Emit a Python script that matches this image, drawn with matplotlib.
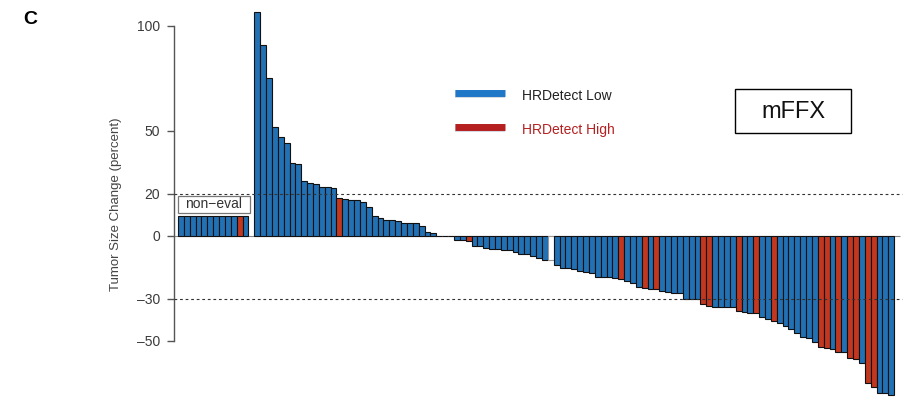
import matplotlib
matplotlib.use('Agg')
import matplotlib.pyplot as plt
import numpy as np
from matplotlib.patches import Rectangle
from matplotlib.lines import Line2D

plt.rcParams['font.family'] = ['Liberation Sans', 'DejaVu Sans']

# ---------------- data ----------------
# non-evaluable patients (drawn at fixed height)
noneval_vals = [9.5] * 12
noneval_grp = ['L'] * 10 + ['H', 'L']

# evaluable patients, sorted (waterfall)
pos_vals = [106.7, 90.9, 75.0, 51.9, 47.3, 44.4, 34.6, 34.1, 26.3, 25.1, 24.6,
            23.5, 23.2, 22.7, 18.1, 17.5, 17.1, 17.1, 16.3, 13.6, 9.6, 8.4,
            7.6, 7.6, 7.1, 6.3, 6.3, 6.3, 4.8, 1.7, 1.3]
pos_grp = ['L'] * 14 + ['H'] + ['L'] * 16

zero_vals = [0.0, 0.0, 0.0]
zero_grp = ['L', 'L', 'L']

neg_vals = [-2.0, -2.0, -2.4, -4.6, -4.8, -5.9, -6.2, -6.2, -6.6, -6.8, -7.5,
            -8.4, -8.7, -9.4, -10.6, -11.3, -11.4,
            -13.8, -15.1, -15.4, -15.7, -16.5, -17.0, -17.8, -19.7, -19.7,
            -19.7, -19.9, -20.6, -21.3, -22.5, -24.4, -24.9, -25.4, -25.4,
            -26.0, -26.5, -27.3, -27.3, -30.2, -30.2, -30.2, -32.4, -33.3,
            -33.7, -34.0, -34.0, -34.0, -35.6, -36.2, -36.5, -36.5, -38.7,
            -39.7, -40.6, -41.3, -42.9, -44.4, -46.0, -48.3, -48.7, -50.3,
            -52.7, -53.3, -53.7, -55.1, -55.1, -58.3, -58.7, -60.6, -69.8,
            -72.0, -74.6, -74.6, -75.7]
neg_grp = (['L', 'L', 'H'] + ['L'] * 13 + ['N'] +
           ['L'] * 11 + ['H', 'L', 'L', 'L', 'H', 'L', 'H'] + ['L'] * 7 + ['H', 'H'] +
           ['L'] * 4 + ['H', 'L', 'L', 'H', 'L', 'L', 'H'] + ['L'] * 7 +
           ['H', 'H', 'L', 'H', 'L', 'H', 'H', 'L', 'H', 'H', 'L', 'L', 'L'])

yticks = [-50, -30, 0, 20, 50, 100]
ref_lines = [20, -30]

# ---------------- styling ----------------
BLUE = '#2271b5'
RED = '#c2371f'
colmap = {'L': BLUE, 'H': RED, 'N': 'white'}
edgemap = {'L': '#111111', 'H': '#111111', 'N': '#999999'}

fig = plt.figure(figsize=(9.05, 3.97), dpi=100)
ax = fig.add_axes([0, 0, 1, 1])
ax.patch.set_alpha(0)

pitch = 5.87
x0px = 178.0


def px2x(p):
    return (p - x0px) / pitch - 0.5


ax.set_xlim(px2x(0), px2x(905))
ax.set_ylim(-76.67, 112.38)

# positions
x_ne = np.arange(len(noneval_vals))
rest_vals = pos_vals + zero_vals + neg_vals
rest_grp = pos_grp + zero_grp + neg_grp
x_rest = np.arange(len(rest_vals)) + len(noneval_vals) + 1

# zero line
ax.hlines(0, px2x(174), px2x(900), color='#888888', lw=0.8, zorder=1)

ax.bar(x_ne, noneval_vals, width=1.0, color=[colmap[g] for g in noneval_grp],
       edgecolor=[edgemap[g] for g in noneval_grp], linewidth=0.8, zorder=3)
ax.bar(x_rest, rest_vals, width=1.0, color=[colmap[g] for g in rest_grp],
       edgecolor=[edgemap[g] for g in rest_grp], linewidth=0.8, zorder=3)

for yv in ref_lines:
    ax.hlines(yv, px2x(174), px2x(902), color='#333333', lw=0.8,
              linestyles=(0, (2.5, 2.5)), zorder=4)

# non-eval box
ax.add_patch(Rectangle((px2x(178), 11.0), px2x(250) - px2x(178), 8.0,
                       facecolor='white', edgecolor='#777777', lw=0.9, zorder=5))
ax.text((px2x(178) + px2x(250)) / 2, 15.0, 'non\u2212eval', ha='center',
        va='center', fontsize=10, color='#333333', zorder=6)

# axis styling
for s in ['top', 'right', 'bottom']:
    ax.spines[s].set_visible(False)
ax.spines['left'].set_position(('data', px2x(174)))
ax.spines['left'].set_bounds(-50, 100)
ax.spines['left'].set_color('#555555')
ax.spines['left'].set_linewidth(1.0)
ax.set_xticks([])
ax.set_yticks(yticks)
ax.set_yticklabels([str(t).replace('-', '\u2013') for t in yticks])
ax.tick_params(axis='y', length=5, width=1.0, color='#555555', pad=5,
               labelsize=10, labelcolor='#3a3a3a')

fig.text(116 / 905, 1 - 204 / 397, 'Tumor Size Change (percent)', rotation=90,
         ha='center', va='center', fontsize=9.5, color='#444444')

# legend
for ypx, col, lab, tcol in [(93, '#1f77c8', 'HRDetect Low', '#222222'),
                            (127, '#b51f1f', 'HRDetect High', '#b52020')]:
    fig.add_artist(Line2D([455 / 905, 505 / 905], [1 - (ypx + 1) / 397] * 2,
                          lw=5.5, color='#9aa4b8', alpha=0.5, solid_capstyle='butt'))
    fig.add_artist(Line2D([455 / 905, 505 / 905], [1 - ypx / 397] * 2,
                          lw=5, color=col, solid_capstyle='butt'))
    fig.text(522 / 905, 1 - (ypx + 3) / 397, lab, ha='left', va='center',
             fontsize=10, color=tcol)

# mFFX box
fig.add_artist(Rectangle((735 / 905, 1 - 133 / 397), 116 / 905, 44 / 397,
                         transform=fig.transFigure, facecolor='white',
                         edgecolor='black', lw=1.0))
fig.text(793 / 905, 1 - 112 / 397, 'mFFX', ha='center', va='center',
         fontsize=17, color='#111111')

fig.text(30 / 905, 1 - 20 / 397, 'C', ha='center', va='center', fontsize=14,
         fontweight='bold', color='black')

fig.savefig('out.png', dpi=100)
